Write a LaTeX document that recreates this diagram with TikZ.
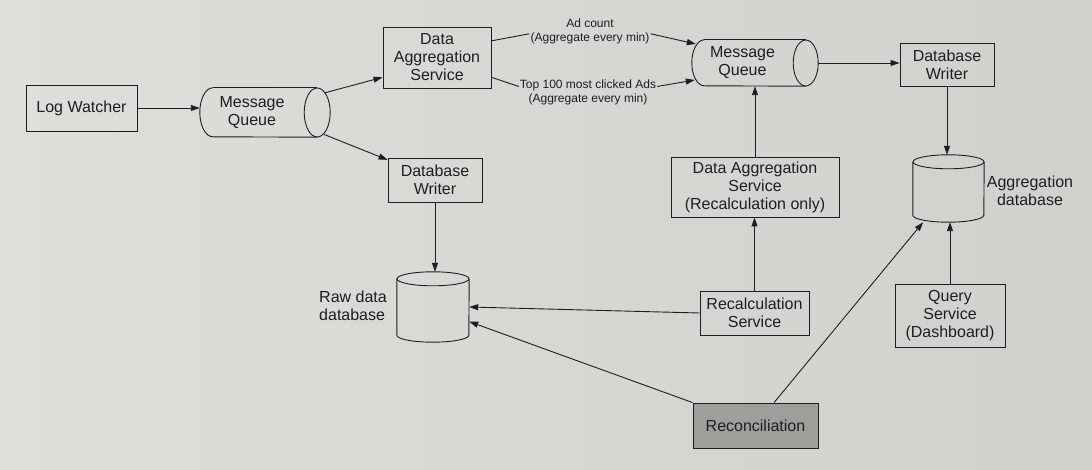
\documentclass[tikz,border=0pt]{standalone}
\usepackage{fontspec}
\setmainfont{Liberation Sans}
\usetikzlibrary{arrows.meta,calc}
\definecolor{paperL}{RGB}{222,222,218}
\definecolor{paperR}{RGB}{208,208,204}
\definecolor{ink}{RGB}{30,30,30}
\definecolor{recfill}{RGB}{158,158,155}
\begin{document}
\begin{tikzpicture}[x=1pt,y=-1pt,
  box/.style={draw=ink,line width=0.9pt,rectangle,align=center,inner sep=2pt,
    font=\fontsize{16}{18}\selectfont,text=ink},
  shp/.style={rectangle,inner sep=0pt},
  qtxt/.style={align=center,font=\fontsize{16}{18}\selectfont,text=ink,inner sep=0pt},
  lbl/.style={align=center,inner sep=1pt,font=\fontsize{12}{14}\selectfont,text=ink},
  dblbl/.style={inner sep=0pt,font=\fontsize{16}{18}\selectfont,text=ink},
  arr/.style={draw=ink,line width=0.9pt,-{Triangle[length=9pt,width=6pt]}},
  ln/.style={draw=ink,line width=0.9pt}]
\shade[left color=paperL,right color=paperR] (0,0) rectangle (1092,470);
\useasboundingbox (0,0) rectangle (1092,470);

% nodes
\node[box,minimum width=111pt,minimum height=46pt] (lw) at (81.5,108) {Log Watcher};
\node[shp,minimum width=130pt,minimum height=49pt,
  label={[qtxt,xshift=-13pt]center:Message\\Queue}] (mq1) at (265,112.5) {};
\node[box,minimum width=108pt,minimum height=61pt] (das) at (437,57.5) {Data\\Aggregation\\Service};
\node[box,minimum width=94pt,minimum height=44pt] (dbw1) at (435,180) {Database\\Writer};
\node[shp,minimum width=72pt,minimum height=70pt] (rawdb) at (433,307) {};
\node[dblbl,anchor=east,align=left] (rawlbl) at (387,306) {Raw data\\database};
\node[lbl] (adc) at (590,31) {Ad count\\(Aggregate every min)};
\node[lbl] (t100) at (588,92) {Top 100 most clicked Ads\\(Aggregate every min)};
\node[shp,minimum width=126pt,minimum height=46pt,
  label={[qtxt,xshift=-12.5pt]center:Message\\Queue}] (mq2) at (755,63) {};
\node[box,minimum width=94pt,minimum height=43pt] (dbw2) at (947,64.5) {Database\\Writer};
\node[shp,minimum width=71pt,minimum height=67pt] (aggdb) at (948.5,188.5) {};
\node[dblbl,align=center] (agglbl) at (1030,191) {Aggregation\\database};
\node[box,minimum width=168pt,minimum height=60pt] (dasr) at (755,187) {Data Aggregation\\Service\\(Recalculation only)};
\node[box,minimum width=109pt,minimum height=44pt] (rs) at (754.5,313) {Recalculation\\Service};
\node[box,fill=recfill,minimum width=125pt,minimum height=45pt] (rec) at (755.5,425.5) {Reconciliation};
\node[box,minimum width=110pt,minimum height=63pt] (qs) at (950,315.5) {Query\\Service\\(Dashboard)};

% horizontal cylinders (message queues)
\draw[ln] ($(mq1.north west)+(13,0)$) arc[start angle=90,end angle=270,x radius=13pt,y radius=24.5pt]
  -- ($(mq1.south east)+(-13,0)$);
\draw[ln] ($(mq1.north west)+(13,0)$) -- ($(mq1.north east)+(-13,0)$);
\draw[ln] ($(mq1.east)+(-13,0)$) ellipse[x radius=13pt,y radius=24.5pt];
\draw[ln] ($(mq2.north west)+(12.5,0)$) arc[start angle=90,end angle=270,x radius=12.5pt,y radius=23pt]
  -- ($(mq2.south east)+(-12.5,0)$);
\draw[ln] ($(mq2.north west)+(12.5,0)$) -- ($(mq2.north east)+(-12.5,0)$);
\draw[ln] ($(mq2.east)+(-12.5,0)$) ellipse[x radius=12.5pt,y radius=23pt];

% vertical cylinders (databases)
\draw[ln] ($(rawdb.north west)+(0,7)$) -- ($(rawdb.south west)+(0,-7)$)
  arc[start angle=180,end angle=360,x radius=36pt,y radius=7pt] -- ($(rawdb.north east)+(0,7)$);
\draw[ln] ($(rawdb.north)+(0,7)$) ellipse[x radius=36pt,y radius=7pt];
\draw[ln] ($(aggdb.north west)+(0,7)$) -- ($(aggdb.south west)+(0,-7)$)
  arc[start angle=180,end angle=360,x radius=35.5pt,y radius=7pt] -- ($(aggdb.north east)+(0,7)$);
\draw[ln] ($(aggdb.north)+(0,7)$) ellipse[x radius=35.5pt,y radius=7pt];

% connectors
\draw[arr] (lw.east) -- (lw.east -| mq1.west);
\draw[arr] ($(mq1.east)+(-6,-19.5)$) -- (das.200);
\draw[arr] ($(mq1.east)+(-6,22)$) -- (dbw1.157);
\draw[arr] (dbw1.south) -- (dbw1.south |- rawdb.north);
\draw[ln] (das.17) -- ($(adc.north west)!0.6!(adc.south west)$);
\draw[arr] ($(adc.north east)!0.6!(adc.south east)$) -- ($(mq2.west)+(4,-19)$);
\draw[ln] (das.-20) -- ($(t100.north west)!0.3!(t100.south west)$);
\draw[arr] ($(t100.north east)!0.3!(t100.south east)$) -- ($(mq2.west)+(3,17)$);
\draw[arr] (mq2.east) -- (mq2.east -| dbw2.west);
\draw[arr] (dbw2.south) -- (dbw2.south |- aggdb.north);
\draw[arr] (dasr.north) -- (dasr.north |- mq2.south);
\draw[arr] (rs.north) -- (rs.north |- dasr.south);
\draw[arr] (rs.west) -- (rawdb.east);
\draw[arr] (rec.north west) -- (rawdb.-22);
\draw[arr] (rec.51) -- (aggdb.233);
\draw[arr] (qs.north) -- (qs.north |- aggdb.south);
\end{tikzpicture}
\end{document}
